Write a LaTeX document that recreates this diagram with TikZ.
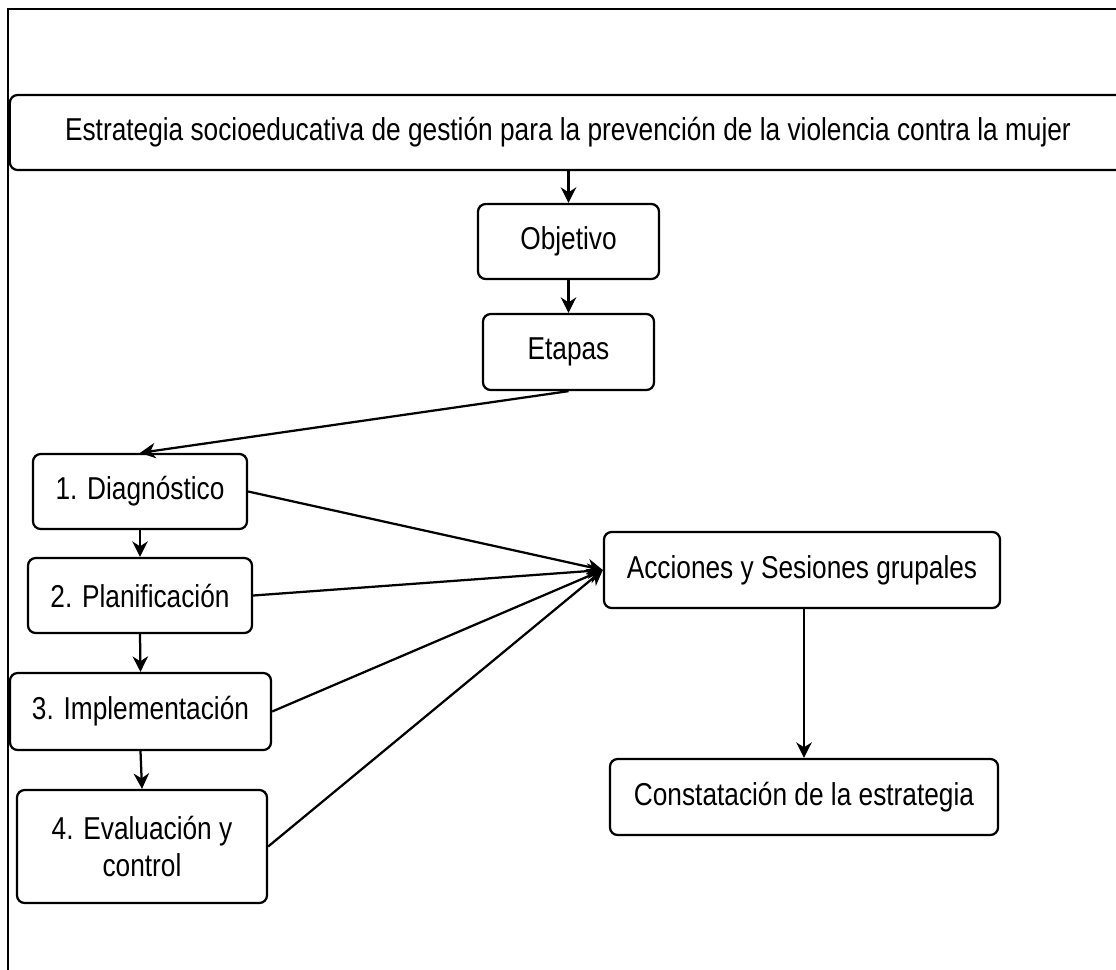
\documentclass[tikz,border=0pt]{standalone}
\usepackage{fontspec}
\setmainfont{Liberation Sans}[FakeStretch=0.83]
\usetikzlibrary{arrows.meta}

\begin{document}
\begin{tikzpicture}[
    x=0.025cm, y=-0.025cm,
    caja/.style={draw,rounded corners=5.5pt,line width=1.6pt,align=center,inner sep=0pt,
        font=\fontsize{22.5pt}{26.3pt}\selectfont},
    flecha/.style={-{Stealth[length=11pt,width=11pt,inset=3.5pt]},line width=1.6pt}
]

% Page and outer frame
\useasboundingbox (0,0) rectangle (1116,969);
\clip (0,0) rectangle (1116,969);
\draw[line width=1pt] (8,1000) -- (8,9) -- (1130,9);

% Title box (runs past the right edge)
\node[caja,minimum width=27.9cm,minimum height=1.875cm] (estrategia) at (568,132.5)
    {Estrategia socioeducativa de gestión para la prevención de la violencia contra la mujer};

% Centre column
\node[caja,minimum width=4.525cm,minimum height=1.875cm] (objetivo) at (568.5,241.5) {Objetivo};
\node[caja,minimum width=4.275cm,minimum height=1.9cm] (etapas) at (568.5,352) {Etapas};

% Stages, left column
\node[caja,minimum width=5.35cm,minimum height=1.875cm] (diag) at (140,491.5) {1. Diagnóstico};
\node[caja,minimum width=5.6cm,minimum height=1.875cm] (plan) at (140,595.5) {2. Planificación};
\node[caja,minimum width=6.525cm,minimum height=1.925cm] (impl) at (140.5,711.5) {3. Implementación};
\node[caja,minimum width=6.25cm,minimum height=2.825cm] (eval) at (142,846.5) {4. Evaluación y\\control};

% Right column
\node[caja,minimum width=9.9cm,minimum height=1.9cm] (acciones) at (802,570) {Acciones y Sesiones grupales};
\node[caja,minimum width=9.7cm,minimum height=1.9cm] (constat) at (804,797) {Constatación de la estrategia};

% Connectors
\draw[flecha] (estrategia.south -| objetivo.north) -- (objetivo.north);
\draw[flecha] (objetivo) -- (etapas);
\draw[flecha] (etapas.south) -- (diag.north);
\draw[flecha] (diag) -- (plan);
\draw[flecha] (plan.south) -- (impl.north);
\draw[flecha] (impl.south) -- (eval.north);
\foreach \etapa in {diag,plan,impl,eval}
    \draw[flecha] (\etapa.east) -- (acciones.west);
\draw[flecha] (acciones.south -| constat.north) -- (constat.north);

\end{tikzpicture}
\end{document}
